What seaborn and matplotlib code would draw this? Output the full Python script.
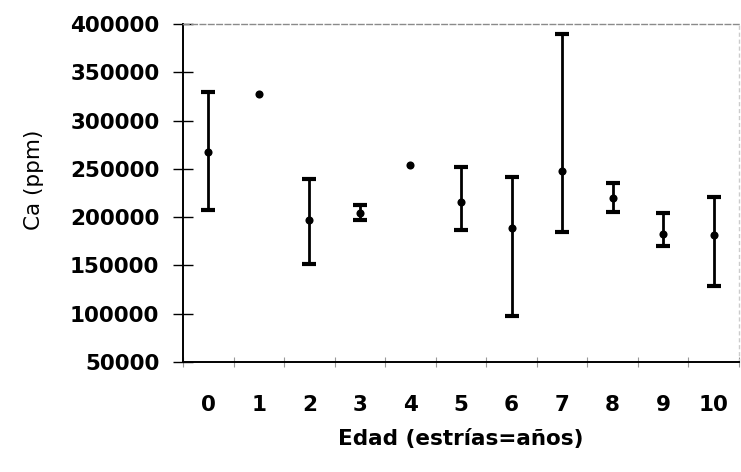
import numpy as np
import pandas as pd
import matplotlib
matplotlib.use("Agg")
import matplotlib.pyplot as plt
import seaborn as sns

# ---- data ----
edad = [0, 1, 2, 3, 4, 5, 6, 7, 8, 9, 10]
ca_mean = [267000, 327000, 197500, 204000, 253500, 215500, 189000, 247500, 220000, 182500, 181000]
ca_upper = [329500, np.nan, 239000, 212500, np.nan, 251500, 241500, 390000, 235500, 204000, 220500]
ca_lower = [207500, np.nan, 151500, 197000, np.nan, 186500, 98000, 184500, 205000, 170000, 128500]
y_ticks = [50000, 100000, 150000, 200000, 250000, 300000, 350000, 400000]
x_label = "Edad (estrías=años)"
y_label = "Ca (ppm)"

df = pd.DataFrame({"edad": edad, "ca": ca_mean, "up": ca_upper, "lo": ca_lower})

sns.set_style("white")
plt.rcParams["font.family"] = ["DejaVu Sans"]
plt.rcParams["text.color"] = "black"
plt.rcParams["axes.labelcolor"] = "black"
plt.rcParams["xtick.color"] = "black"
plt.rcParams["ytick.color"] = "black"

fig = plt.figure(figsize=(7.41, 4.72), dpi=100)
ax = fig.add_axes([183 / 741, 1 - 362 / 472, (739 - 183) / 741, (362 - 24) / 472])

# error bars
has = df["up"].notna()
sub = df[has]
ax.errorbar(sub["edad"], sub["ca"],
            yerr=[sub["ca"] - sub["lo"], sub["up"] - sub["ca"]],
            fmt="none", ecolor="black", elinewidth=2.0, capsize=5, capthick=3, zorder=2)

# mean points
sns.scatterplot(data=df, x="edad", y="ca", ax=ax, color="black", s=34,
                edgecolor="black", linewidth=0, zorder=3, legend=False)

ax.set_xlim(-0.5, 10.5)
ax.set_ylim(50000, 400000)
ax.set_yticks(y_ticks)
ax.set_yticklabels([str(v) for v in y_ticks], fontsize=15.5, fontweight="bold")
ax.set_xticks(edad)
ax.set_xticklabels([str(v) for v in edad], fontsize=15.5, fontweight="bold")
ax.set_xticks(np.arange(-0.5, 11, 1), minor=True)

ax.tick_params(axis="y", which="major", direction="inout", length=14, width=1.0,
               color="black", pad=10, left=True)
ax.tick_params(axis="x", which="major", length=0, pad=24)
ax.tick_params(axis="x", which="minor", direction="inout", length=7, width=0.8,
               color="#999999", bottom=True)

ax.set_xlabel(x_label, fontsize=15.5, fontweight="bold", labelpad=10)
ax.set_ylabel(y_label, fontsize=15.5)
ax.yaxis.set_label_coords(-0.25, 0.538)

for s in ["left", "bottom"]:
    ax.spines[s].set_color("black")
    ax.spines[s].set_linewidth(1.4)
ax.spines["top"].set_color("#8a8a8a")
ax.spines["top"].set_linestyle((0, (4, 2)))
ax.spines["top"].set_linewidth(1.0)
ax.spines["right"].set_color("#cccccc")
ax.spines["right"].set_linestyle((0, (2, 3)))
ax.spines["right"].set_linewidth(1.0)

fig.savefig("out.png", dpi=100, facecolor="white")
